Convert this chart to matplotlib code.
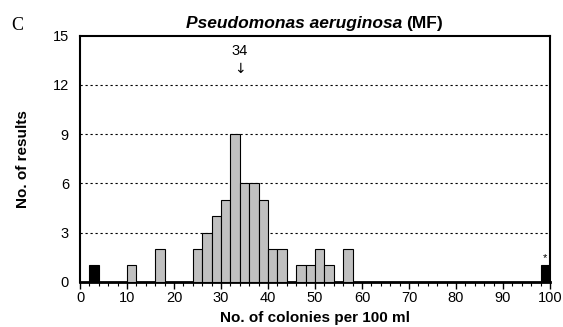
import numpy as np
import matplotlib.pyplot as plt

plt.rcParams['font.family'] = ['Liberation Sans', 'DejaVu Sans']

# bin edges (width 2) and counts per bin
bin_left = [2, 10, 16, 24, 26, 28, 30, 32, 34, 36, 38, 40, 42, 46, 48, 50, 52, 56, 98]
counts = [1, 1, 2, 2, 3, 4, 5, 9, 6, 6, 5, 2, 2, 1, 1, 2, 1, 2, 1]
# values outside the accepted range are shown in black
outlier = [True] + [False] * 17 + [True]
median_value = 34

fig = plt.figure(figsize=(5.63, 3.27), dpi=100)
ax = fig.add_axes([0.1421, 0.1385, 0.8349, 0.7523])

colors = ['black' if o else '#c0c0c0' for o in outlier]
ax.bar(bin_left, counts, width=2, align='edge', color=colors,
       edgecolor='black', linewidth=0.8, zorder=3)

ax.set_xlim(0, 100)
ax.set_ylim(0, 15)
ax.set_xticks(np.arange(0, 101, 10))
ax.set_xticks(np.arange(0, 101, 2), minor=True)
ax.set_yticks([0, 3, 6, 9, 12, 15])
ax.tick_params(axis='x', which='major', length=5, width=1, labelsize=10.5, pad=2)
ax.tick_params(axis='x', which='minor', length=3, width=0.8)
ax.tick_params(axis='y', length=0, labelsize=10.5, pad=8)

for y in [3, 6, 9, 12]:
    ax.axhline(y, color='black', linestyle=(0, (2, 2.5)), linewidth=0.8, zorder=1)

for s in ax.spines.values():
    s.set_linewidth(1.5)
ax.spines['bottom'].set_linewidth(2)

ax.set_xlabel('No. of colonies per 100 ml', fontsize=11, fontweight='bold')
ax.set_ylabel('No. of results', fontsize=11, fontweight='bold')
ax.xaxis.set_label_coords(0.5, -0.12)
ax.yaxis.set_label_coords(-0.106, 0.5)

# median marker
ax.text(median_value, 14.05, str(median_value), ha='center', va='center', fontsize=10.5)
ax.text(median_value, 12.95, '\u2193', ha='center', va='center', fontsize=10,
        family=['DejaVu Sans'])
ax.text(99, 1.45, '*', ha='center', va='center', fontsize=8)

fig.text(0.714, 0.914, 'Pseudomonas aeruginosa', ha='right', va='baseline',
         fontsize=12.5, fontweight='bold', style='italic')
fig.text(0.721, 0.914, '(MF)', ha='left', va='baseline', fontsize=12.5, fontweight='bold')
fig.text(0.02, 0.908, 'C', ha='left', va='baseline', fontsize=13,
         family=['Liberation Serif'])

fig.savefig('out.png', dpi=100)
